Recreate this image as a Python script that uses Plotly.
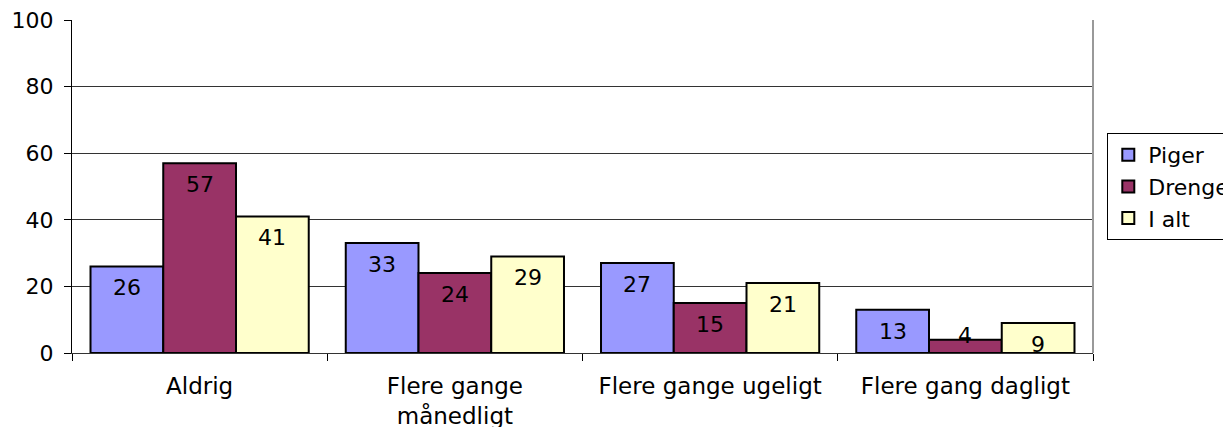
import plotly.graph_objects as go

categories = ["Aldrig", "Flere gange<br>månedligt", "Flere gange ugeligt", "Flere gang dagligt"]
piger = [26, 33, 27, 13]
drenge = [57, 24, 15, 4]
i_alt = [41, 29, 21, 9]

series = [
    ("Piger", piger, "#9999ff"),
    ("Drenge", drenge, "#993366"),
    ("I alt", i_alt, "#ffffcc"),
]

FONT = "DejaVu Sans, Verdana, sans-serif"
BAR_PX = 255 * (1 - 0.145) / 3  # width of one bar in pixels

fig = go.Figure()
annotations = []
for i, (name, vals, color) in enumerate(series):
    fig.add_trace(go.Bar(
        name=name, x=categories, y=vals,
        marker=dict(color=color, line=dict(color="black", width=2)),
        cliponaxis=False,
    ))
    # value labels inside the bar top, like Excel "inside end"
    for cat, v in zip(categories, vals):
        small = v < 6
        annotations.append(dict(
            x=cat, y=v, xref="x", yref="y", text=str(v), showarrow=False,
            xshift=(i - 1) * BAR_PX,
            yanchor="bottom" if small else "top",
            yshift=-10 if small else -7,
            font=dict(family=FONT, size=22, color="black"),
        ))

# the page body adds ~8px around the figure, so margins are shifted to compensate
fig.update_layout(
    width=1231, height=427,
    barmode="group", bargap=0.145, bargroupgap=0,
    plot_bgcolor="white", paper_bgcolor="white",
    margin=dict(l=64, r=146, t=12, b=82, autoexpand=False),
    font=dict(family=FONT, size=22, color="black"),
    annotations=annotations,
    legend=dict(
        x=1.014, y=0.5, xanchor="left", yanchor="middle",
        bordercolor="black", borderwidth=1,
        font=dict(size=22), tracegroupgap=0, itemwidth=30,
    ),
    shapes=[dict(type="line", xref="paper", yref="paper", x0=1, x1=1, y0=0, y1=1,
                 line=dict(color="#999999", width=2))],
)
fig.update_yaxes(
    range=[0, 100], dtick=20, showgrid=True, gridcolor="#333333", gridwidth=1,
    showline=True, linecolor="black", linewidth=1,
    ticks="outside", ticklen=7, tickcolor="black", zeroline=False,
    tickfont=dict(size=22), automargin=False, ticklabeloverflow="allow",
    ticklabelstandoff=6,
)
fig.update_xaxes(
    showline=True, linecolor="#333333", linewidth=1,
    ticks="outside", ticklen=7, tickson="boundaries", tickcolor="black",
    tickfont=dict(size=23), automargin=False, ticklabelstandoff=12,
)

fig.write_html("out.html")
